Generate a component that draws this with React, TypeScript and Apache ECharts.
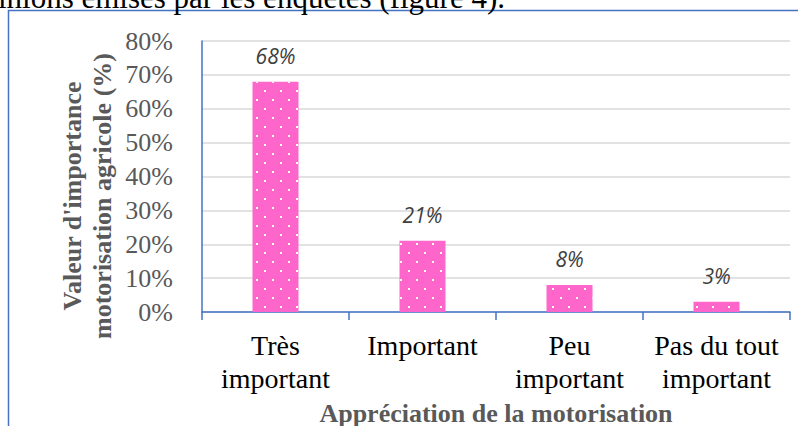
import React, { useEffect, useRef } from "react";
import * as echarts from "echarts";

const categories = ["Très\nimportant", "Important", "Peu\nimportant", "Pas du tout\nimportant"];
const values = [68, 21, 8, 3];
const yTicks = { min: 0, max: 80, interval: 10 };
const yAxisTitle = "Valeur d'importance\nmotorisation agricole (%)";
const xAxisTitle = "Appréciation de la motorisation";
const topText = "opinions émises par les enquêtés (figure 4).";

export default function App() {
  const ref = useRef<HTMLDivElement>(null);
  useEffect(() => {
    const chart = echarts.init(ref.current!, null, { renderer: "svg" });
    const serif = "'Liberation Serif', 'Times New Roman', serif";
    chart.setOption({
      animation: false,
      backgroundColor: "#ffffff",
      grid: {
        left: 202,
        right: 8,
        top: 41,
        bottom: 114,
        containLabel: false,
        outerBoundsMode: "none",
      },
      xAxis: {
        type: "category",
        data: categories,
        axisLine: { show: true, lineStyle: { color: "#4472C4", width: 1.5 } },
        axisTick: { show: true, length: 8, lineStyle: { color: "#4472C4", width: 1.5 } },
        axisLabel: {
          color: "#000000",
          fontFamily: serif,
          fontSize: 28,
          lineHeight: 33,
          margin: 17,
          interval: 0,
        },
        name: xAxisTitle,
        nameLocation: "middle",
        nameGap: 88,
        nameMoveOverlap: false,
        nameTextStyle: { color: "#595959", fontFamily: serif, fontWeight: "bold", fontSize: 26 },
      },
      yAxis: {
        type: "value",
        min: yTicks.min,
        max: yTicks.max,
        interval: yTicks.interval,
        axisLine: { show: true, lineStyle: { color: "#4472C4", width: 1.5 } },
        axisTick: { show: false },
        axisLabel: {
          formatter: "{value}%",
          color: "#595959",
          fontFamily: serif,
          fontSize: 26,
          margin: 29,
        },
        splitLine: { show: true, lineStyle: { color: "#d9d9d9", width: 1.5 } },
      },
      series: [
        {
          type: "bar",
          data: values,
          barWidth: 46,
          itemStyle: {
            color: "#FF66CC",
            decal: {
              symbol: "rect",
              symbolSize: 1,
              color: "#ffffff",
              dashArrayX: [[2, 14], [0, 8, 2, 6]],
              dashArrayY: [2, 6.5],
              rotation: 0,
            },
          },
          label: {
            show: true,
            position: "top",
            distance: 15,
            formatter: "{c}%",
            color: "#404040",
            fontStyle: "italic",
            fontFamily: "'Open Sans', 'Lato', sans-serif",
            fontSize: 21,
          },
        },
      ],
      graphic: [
        {
          type: "rect",
          shape: { x: 8.5, y: 10.5, width: 800, height: 430 },
          style: { fill: "none", stroke: "#4472C4", lineWidth: 1.5 },
          silent: true,
        },
        {
          type: "text",
          style: {
            text: topText,
            x: 505,
            y: 13,
            textAlign: "right",
            textVerticalAlign: "bottom",
            font: "31px " + serif,
            fill: "#000000",
          },
        },
        {
          type: "text",
          x: 87,
          y: 196,
          rotation: Math.PI / 2,
          style: {
            text: yAxisTitle,
            x: 0,
            y: 0,
            textAlign: "center",
            textVerticalAlign: "middle",
            font: "bold 26px " + serif,
            lineHeight: 30,
            fill: "#595959",
          },
        },
      ],
    });
    return () => chart.dispose();
  }, []);
  return (
    <div
      ref={ref}
      style={{ position: "absolute", left: 0, top: 0, width: 798, height: 426 }}
    />
  );
}
